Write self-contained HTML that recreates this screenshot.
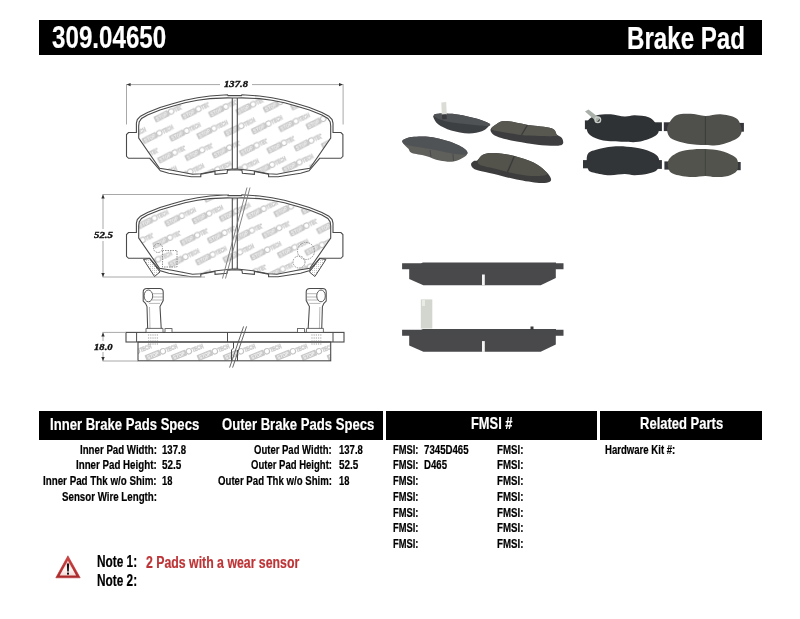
<!DOCTYPE html>
<html><head><meta charset="utf-8"><style>
html,body{margin:0;padding:0;background:#fff;}
body{width:800px;height:619px;position:relative;overflow:hidden;font-family:"Liberation Sans",sans-serif;}
.t{position:absolute;white-space:nowrap;transform-origin:0 0;-webkit-text-stroke:0.2px currentColor;}
.bar{position:absolute;background:#000;}
svg{position:absolute;left:0;top:0;}
</style></head><body>
<div class="bar" style="left:39px;top:20px;width:723px;height:34.5px"></div>
<div class="bar" style="left:39px;top:410.6px;width:344.2px;height:29.7px"></div>
<div class="bar" style="left:386px;top:410.6px;width:211px;height:29.7px"></div>
<div class="bar" style="left:599.6px;top:410.6px;width:162.6px;height:29.7px"></div>
<svg width="800" height="619" viewBox="0 0 800 619"><defs><pattern id="st1" patternUnits="userSpaceOnUse" width="27.4" height="41.2" patternTransform="translate(7,0) rotate(-5)"><g transform="translate(7,6) rotate(-22) scale(1.12)"><rect x="-7" y="-3" width="14" height="5.6" rx="0.8" fill="#c9c9c9"/><text x="0" y="1.6" text-anchor="middle" font-family="Liberation Sans" font-weight="bold" font-size="5" fill="#f4f4f4" textLength="11" lengthAdjust="spacingAndGlyphs">STOP</text><circle cx="9.6" cy="-0.2" r="2.4" fill="none" stroke="#c4c4c4" stroke-width="1"/><text x="12.6" y="1.9" font-family="Liberation Sans" font-weight="bold" font-size="5.6" fill="#e8e8e8" stroke="#c8c8c8" stroke-width="0.55" textLength="10.5" lengthAdjust="spacingAndGlyphs">TECH</text></g><g transform="translate(34.4,6) rotate(-22) scale(1.12)"><rect x="-7" y="-3" width="14" height="5.6" rx="0.8" fill="#c9c9c9"/><text x="0" y="1.6" text-anchor="middle" font-family="Liberation Sans" font-weight="bold" font-size="5" fill="#f4f4f4" textLength="11" lengthAdjust="spacingAndGlyphs">STOP</text><circle cx="9.6" cy="-0.2" r="2.4" fill="none" stroke="#c4c4c4" stroke-width="1"/><text x="12.6" y="1.9" font-family="Liberation Sans" font-weight="bold" font-size="5.6" fill="#e8e8e8" stroke="#c8c8c8" stroke-width="0.55" textLength="10.5" lengthAdjust="spacingAndGlyphs">TECH</text></g><g transform="translate(-20.4,6) rotate(-22) scale(1.12)"><rect x="-7" y="-3" width="14" height="5.6" rx="0.8" fill="#c9c9c9"/><text x="0" y="1.6" text-anchor="middle" font-family="Liberation Sans" font-weight="bold" font-size="5" fill="#f4f4f4" textLength="11" lengthAdjust="spacingAndGlyphs">STOP</text><circle cx="9.6" cy="-0.2" r="2.4" fill="none" stroke="#c4c4c4" stroke-width="1"/><text x="12.6" y="1.9" font-family="Liberation Sans" font-weight="bold" font-size="5.6" fill="#e8e8e8" stroke="#c8c8c8" stroke-width="0.55" textLength="10.5" lengthAdjust="spacingAndGlyphs">TECH</text></g><g transform="translate(20.7,26.6) rotate(-22) scale(1.12)"><rect x="-7" y="-3" width="14" height="5.6" rx="0.8" fill="#c9c9c9"/><text x="0" y="1.6" text-anchor="middle" font-family="Liberation Sans" font-weight="bold" font-size="5" fill="#f4f4f4" textLength="11" lengthAdjust="spacingAndGlyphs">STOP</text><circle cx="9.6" cy="-0.2" r="2.4" fill="none" stroke="#c4c4c4" stroke-width="1"/><text x="12.6" y="1.9" font-family="Liberation Sans" font-weight="bold" font-size="5.6" fill="#e8e8e8" stroke="#c8c8c8" stroke-width="0.55" textLength="10.5" lengthAdjust="spacingAndGlyphs">TECH</text></g><g transform="translate(-6.699999999999999,26.6) rotate(-22) scale(1.12)"><rect x="-7" y="-3" width="14" height="5.6" rx="0.8" fill="#c9c9c9"/><text x="0" y="1.6" text-anchor="middle" font-family="Liberation Sans" font-weight="bold" font-size="5" fill="#f4f4f4" textLength="11" lengthAdjust="spacingAndGlyphs">STOP</text><circle cx="9.6" cy="-0.2" r="2.4" fill="none" stroke="#c4c4c4" stroke-width="1"/><text x="12.6" y="1.9" font-family="Liberation Sans" font-weight="bold" font-size="5.6" fill="#e8e8e8" stroke="#c8c8c8" stroke-width="0.55" textLength="10.5" lengthAdjust="spacingAndGlyphs">TECH</text></g><g transform="translate(20.7,-14.600000000000001) rotate(-22) scale(1.12)"><rect x="-7" y="-3" width="14" height="5.6" rx="0.8" fill="#c9c9c9"/><text x="0" y="1.6" text-anchor="middle" font-family="Liberation Sans" font-weight="bold" font-size="5" fill="#f4f4f4" textLength="11" lengthAdjust="spacingAndGlyphs">STOP</text><circle cx="9.6" cy="-0.2" r="2.4" fill="none" stroke="#c4c4c4" stroke-width="1"/><text x="12.6" y="1.9" font-family="Liberation Sans" font-weight="bold" font-size="5.6" fill="#e8e8e8" stroke="#c8c8c8" stroke-width="0.55" textLength="10.5" lengthAdjust="spacingAndGlyphs">TECH</text></g><g transform="translate(-6.699999999999999,-14.600000000000001) rotate(-22) scale(1.12)"><rect x="-7" y="-3" width="14" height="5.6" rx="0.8" fill="#c9c9c9"/><text x="0" y="1.6" text-anchor="middle" font-family="Liberation Sans" font-weight="bold" font-size="5" fill="#f4f4f4" textLength="11" lengthAdjust="spacingAndGlyphs">STOP</text><circle cx="9.6" cy="-0.2" r="2.4" fill="none" stroke="#c4c4c4" stroke-width="1"/><text x="12.6" y="1.9" font-family="Liberation Sans" font-weight="bold" font-size="5.6" fill="#e8e8e8" stroke="#c8c8c8" stroke-width="0.55" textLength="10.5" lengthAdjust="spacingAndGlyphs">TECH</text></g><g transform="translate(7,47.2) rotate(-22) scale(1.12)"><rect x="-7" y="-3" width="14" height="5.6" rx="0.8" fill="#c9c9c9"/><text x="0" y="1.6" text-anchor="middle" font-family="Liberation Sans" font-weight="bold" font-size="5" fill="#f4f4f4" textLength="11" lengthAdjust="spacingAndGlyphs">STOP</text><circle cx="9.6" cy="-0.2" r="2.4" fill="none" stroke="#c4c4c4" stroke-width="1"/><text x="12.6" y="1.9" font-family="Liberation Sans" font-weight="bold" font-size="5.6" fill="#e8e8e8" stroke="#c8c8c8" stroke-width="0.55" textLength="10.5" lengthAdjust="spacingAndGlyphs">TECH</text></g><g transform="translate(34.4,47.2) rotate(-22) scale(1.12)"><rect x="-7" y="-3" width="14" height="5.6" rx="0.8" fill="#c9c9c9"/><text x="0" y="1.6" text-anchor="middle" font-family="Liberation Sans" font-weight="bold" font-size="5" fill="#f4f4f4" textLength="11" lengthAdjust="spacingAndGlyphs">STOP</text><circle cx="9.6" cy="-0.2" r="2.4" fill="none" stroke="#c4c4c4" stroke-width="1"/><text x="12.6" y="1.9" font-family="Liberation Sans" font-weight="bold" font-size="5.6" fill="#e8e8e8" stroke="#c8c8c8" stroke-width="0.55" textLength="10.5" lengthAdjust="spacingAndGlyphs">TECH</text></g></pattern><pattern id="st2" patternUnits="userSpaceOnUse" width="27.4" height="41.2" patternTransform="translate(-5,3) rotate(-5)"><g transform="translate(7,6) rotate(-22) scale(1.12)"><rect x="-7" y="-3" width="14" height="5.6" rx="0.8" fill="#c9c9c9"/><text x="0" y="1.6" text-anchor="middle" font-family="Liberation Sans" font-weight="bold" font-size="5" fill="#f4f4f4" textLength="11" lengthAdjust="spacingAndGlyphs">STOP</text><circle cx="9.6" cy="-0.2" r="2.4" fill="none" stroke="#c4c4c4" stroke-width="1"/><text x="12.6" y="1.9" font-family="Liberation Sans" font-weight="bold" font-size="5.6" fill="#e8e8e8" stroke="#c8c8c8" stroke-width="0.55" textLength="10.5" lengthAdjust="spacingAndGlyphs">TECH</text></g><g transform="translate(34.4,6) rotate(-22) scale(1.12)"><rect x="-7" y="-3" width="14" height="5.6" rx="0.8" fill="#c9c9c9"/><text x="0" y="1.6" text-anchor="middle" font-family="Liberation Sans" font-weight="bold" font-size="5" fill="#f4f4f4" textLength="11" lengthAdjust="spacingAndGlyphs">STOP</text><circle cx="9.6" cy="-0.2" r="2.4" fill="none" stroke="#c4c4c4" stroke-width="1"/><text x="12.6" y="1.9" font-family="Liberation Sans" font-weight="bold" font-size="5.6" fill="#e8e8e8" stroke="#c8c8c8" stroke-width="0.55" textLength="10.5" lengthAdjust="spacingAndGlyphs">TECH</text></g><g transform="translate(-20.4,6) rotate(-22) scale(1.12)"><rect x="-7" y="-3" width="14" height="5.6" rx="0.8" fill="#c9c9c9"/><text x="0" y="1.6" text-anchor="middle" font-family="Liberation Sans" font-weight="bold" font-size="5" fill="#f4f4f4" textLength="11" lengthAdjust="spacingAndGlyphs">STOP</text><circle cx="9.6" cy="-0.2" r="2.4" fill="none" stroke="#c4c4c4" stroke-width="1"/><text x="12.6" y="1.9" font-family="Liberation Sans" font-weight="bold" font-size="5.6" fill="#e8e8e8" stroke="#c8c8c8" stroke-width="0.55" textLength="10.5" lengthAdjust="spacingAndGlyphs">TECH</text></g><g transform="translate(20.7,26.6) rotate(-22) scale(1.12)"><rect x="-7" y="-3" width="14" height="5.6" rx="0.8" fill="#c9c9c9"/><text x="0" y="1.6" text-anchor="middle" font-family="Liberation Sans" font-weight="bold" font-size="5" fill="#f4f4f4" textLength="11" lengthAdjust="spacingAndGlyphs">STOP</text><circle cx="9.6" cy="-0.2" r="2.4" fill="none" stroke="#c4c4c4" stroke-width="1"/><text x="12.6" y="1.9" font-family="Liberation Sans" font-weight="bold" font-size="5.6" fill="#e8e8e8" stroke="#c8c8c8" stroke-width="0.55" textLength="10.5" lengthAdjust="spacingAndGlyphs">TECH</text></g><g transform="translate(-6.699999999999999,26.6) rotate(-22) scale(1.12)"><rect x="-7" y="-3" width="14" height="5.6" rx="0.8" fill="#c9c9c9"/><text x="0" y="1.6" text-anchor="middle" font-family="Liberation Sans" font-weight="bold" font-size="5" fill="#f4f4f4" textLength="11" lengthAdjust="spacingAndGlyphs">STOP</text><circle cx="9.6" cy="-0.2" r="2.4" fill="none" stroke="#c4c4c4" stroke-width="1"/><text x="12.6" y="1.9" font-family="Liberation Sans" font-weight="bold" font-size="5.6" fill="#e8e8e8" stroke="#c8c8c8" stroke-width="0.55" textLength="10.5" lengthAdjust="spacingAndGlyphs">TECH</text></g><g transform="translate(20.7,-14.600000000000001) rotate(-22) scale(1.12)"><rect x="-7" y="-3" width="14" height="5.6" rx="0.8" fill="#c9c9c9"/><text x="0" y="1.6" text-anchor="middle" font-family="Liberation Sans" font-weight="bold" font-size="5" fill="#f4f4f4" textLength="11" lengthAdjust="spacingAndGlyphs">STOP</text><circle cx="9.6" cy="-0.2" r="2.4" fill="none" stroke="#c4c4c4" stroke-width="1"/><text x="12.6" y="1.9" font-family="Liberation Sans" font-weight="bold" font-size="5.6" fill="#e8e8e8" stroke="#c8c8c8" stroke-width="0.55" textLength="10.5" lengthAdjust="spacingAndGlyphs">TECH</text></g><g transform="translate(-6.699999999999999,-14.600000000000001) rotate(-22) scale(1.12)"><rect x="-7" y="-3" width="14" height="5.6" rx="0.8" fill="#c9c9c9"/><text x="0" y="1.6" text-anchor="middle" font-family="Liberation Sans" font-weight="bold" font-size="5" fill="#f4f4f4" textLength="11" lengthAdjust="spacingAndGlyphs">STOP</text><circle cx="9.6" cy="-0.2" r="2.4" fill="none" stroke="#c4c4c4" stroke-width="1"/><text x="12.6" y="1.9" font-family="Liberation Sans" font-weight="bold" font-size="5.6" fill="#e8e8e8" stroke="#c8c8c8" stroke-width="0.55" textLength="10.5" lengthAdjust="spacingAndGlyphs">TECH</text></g><g transform="translate(7,47.2) rotate(-22) scale(1.12)"><rect x="-7" y="-3" width="14" height="5.6" rx="0.8" fill="#c9c9c9"/><text x="0" y="1.6" text-anchor="middle" font-family="Liberation Sans" font-weight="bold" font-size="5" fill="#f4f4f4" textLength="11" lengthAdjust="spacingAndGlyphs">STOP</text><circle cx="9.6" cy="-0.2" r="2.4" fill="none" stroke="#c4c4c4" stroke-width="1"/><text x="12.6" y="1.9" font-family="Liberation Sans" font-weight="bold" font-size="5.6" fill="#e8e8e8" stroke="#c8c8c8" stroke-width="0.55" textLength="10.5" lengthAdjust="spacingAndGlyphs">TECH</text></g><g transform="translate(34.4,47.2) rotate(-22) scale(1.12)"><rect x="-7" y="-3" width="14" height="5.6" rx="0.8" fill="#c9c9c9"/><text x="0" y="1.6" text-anchor="middle" font-family="Liberation Sans" font-weight="bold" font-size="5" fill="#f4f4f4" textLength="11" lengthAdjust="spacingAndGlyphs">STOP</text><circle cx="9.6" cy="-0.2" r="2.4" fill="none" stroke="#c4c4c4" stroke-width="1"/><text x="12.6" y="1.9" font-family="Liberation Sans" font-weight="bold" font-size="5.6" fill="#e8e8e8" stroke="#c8c8c8" stroke-width="0.55" textLength="10.5" lengthAdjust="spacingAndGlyphs">TECH</text></g></pattern><pattern id="st3" patternUnits="userSpaceOnUse" width="26" height="40" patternTransform="translate(146,342)"><g transform="translate(7,13.5) rotate(-22) scale(1.12)"><rect x="-7" y="-3" width="14" height="5.6" rx="0.8" fill="#c9c9c9"/><text x="0" y="1.6" text-anchor="middle" font-family="Liberation Sans" font-weight="bold" font-size="5" fill="#f4f4f4" textLength="11" lengthAdjust="spacingAndGlyphs">STOP</text><circle cx="9.6" cy="-0.2" r="2.4" fill="none" stroke="#c4c4c4" stroke-width="1"/><text x="12.6" y="1.9" font-family="Liberation Sans" font-weight="bold" font-size="5.6" fill="#e8e8e8" stroke="#c8c8c8" stroke-width="0.55" textLength="10.5" lengthAdjust="spacingAndGlyphs">TECH</text></g><g transform="translate(33,13.5) rotate(-22) scale(1.12)"><rect x="-7" y="-3" width="14" height="5.6" rx="0.8" fill="#c9c9c9"/><text x="0" y="1.6" text-anchor="middle" font-family="Liberation Sans" font-weight="bold" font-size="5" fill="#f4f4f4" textLength="11" lengthAdjust="spacingAndGlyphs">STOP</text><circle cx="9.6" cy="-0.2" r="2.4" fill="none" stroke="#c4c4c4" stroke-width="1"/><text x="12.6" y="1.9" font-family="Liberation Sans" font-weight="bold" font-size="5.6" fill="#e8e8e8" stroke="#c8c8c8" stroke-width="0.55" textLength="10.5" lengthAdjust="spacingAndGlyphs">TECH</text></g><g transform="translate(-19,13.5) rotate(-22) scale(1.12)"><rect x="-7" y="-3" width="14" height="5.6" rx="0.8" fill="#c9c9c9"/><text x="0" y="1.6" text-anchor="middle" font-family="Liberation Sans" font-weight="bold" font-size="5" fill="#f4f4f4" textLength="11" lengthAdjust="spacingAndGlyphs">STOP</text><circle cx="9.6" cy="-0.2" r="2.4" fill="none" stroke="#c4c4c4" stroke-width="1"/><text x="12.6" y="1.9" font-family="Liberation Sans" font-weight="bold" font-size="5.6" fill="#e8e8e8" stroke="#c8c8c8" stroke-width="0.55" textLength="10.5" lengthAdjust="spacingAndGlyphs">TECH</text></g></pattern><pattern id="dots" patternUnits="userSpaceOnUse" width="2" height="2"><rect width="1" height="1" fill="#c8c8c8"/></pattern><marker id="ar" viewBox="0 0 10 10" refX="10" refY="5" markerWidth="7" markerHeight="5" orient="auto-start-reverse"><path d="M0,1 L10,5 L0,9 Z" fill="#222"/></marker><filter id="soft" x="-5%" y="-5%" width="110%" height="110%"><feGaussianBlur stdDeviation="0.45"/></filter></defs><g filter="url(#soft)"><path d="M433.7,115.5 C434.4,114.8 434.5,113.9 438.1,113.7 C441.8,113.5 450.5,113.7 455.6,114.2 C460.7,114.7 464.5,115.8 468.7,116.8 C472.9,117.8 477.5,118.7 481.0,119.9 C484.5,121.1 488.5,122.6 489.7,123.8 C490.9,125.0 489.3,125.7 488.0,126.9 C486.7,128.1 485.1,130.1 481.9,131.2 C478.7,132.3 473.8,133.5 468.7,133.4 C463.6,133.3 456.3,131.9 451.2,130.4 C446.1,128.9 441.0,126.3 438.1,124.2 C435.2,122.1 434.4,119.5 433.7,118.0 C433.0,116.5 433.0,116.2 433.7,115.5 Z" fill="#3e3f42"/><path d="M433.7,115.5 C433.4,114.5 434.5,113.9 438.1,113.7 C441.8,113.5 450.5,113.7 455.6,114.2 C460.7,114.7 464.5,115.8 468.7,116.8 C472.9,117.8 477.5,118.7 481.0,119.9 C484.5,121.1 488.6,122.8 489.7,123.8 C490.8,124.8 490.8,125.9 487.5,126.0 C484.2,126.1 475.9,125.1 470.0,124.5 C464.1,123.9 457.0,123.3 452.0,122.5 C447.0,121.7 443.1,120.7 440.0,119.5 C436.9,118.3 434.0,116.5 433.7,115.5 Z" fill="#505256"/><path d="M441.3,102.5 L446.2,102 L446.8,114.5 L441.8,114.8 Z" fill="#dcdcd6"/><path d="M442,114.5 L446.5,114.3 L446.8,119 L442.3,119.3 Z" fill="#3a3b3e"/><path d="M402.2,141.1 C402.5,140.2 403.8,139.5 405.4,138.8 C407.0,138.1 408.5,137.3 411.9,136.9 C415.3,136.5 421.2,136.2 425.8,136.5 C430.4,136.8 435.0,137.7 439.6,138.8 C444.2,139.9 449.6,141.5 453.5,143.0 C457.4,144.5 460.5,146.1 462.8,147.6 C465.1,149.1 467.1,150.7 467.4,152.2 C467.7,153.7 466.9,155.2 464.6,156.8 C462.3,158.4 457.7,160.9 453.5,161.5 C449.3,162.1 444.2,161.4 439.6,160.5 C435.0,159.6 430.4,157.1 425.8,155.9 C421.2,154.7 414.8,154.3 411.9,153.1 C409.0,151.9 409.6,150.0 408.2,148.5 C406.8,147.0 404.6,145.1 403.6,143.9 C402.6,142.7 401.9,141.9 402.2,141.1 Z" fill="#5e5f5c"/><path d="M402.2,141.1 C402.3,140.2 403.8,139.5 405.4,138.8 C407.0,138.1 408.5,137.3 411.9,136.9 C415.3,136.5 421.2,136.2 425.8,136.5 C430.4,136.8 435.0,137.7 439.6,138.8 C444.2,139.9 449.6,141.5 453.5,143.0 C457.4,144.5 460.5,146.1 462.8,147.6 C465.1,149.1 467.0,151.0 467.4,152.2 C467.8,153.3 467.6,154.3 465.0,154.5 C462.4,154.7 457.8,154.4 452.0,153.5 C446.2,152.6 436.7,150.2 430.0,149.0 C423.3,147.8 416.2,146.8 412.0,146.0 C407.8,145.2 406.6,145.3 405.0,144.5 C403.4,143.7 402.1,142.0 402.2,141.1 Z" fill="#505257"/><path d="M430,150 L431,157 M453,154 L453.5,161" stroke="#4a4b4a" stroke-width="1"/><path d="M490.6,129.3 C491.1,127.6 493.8,125.6 496.3,124.2 C498.8,122.8 500.5,121.0 505.5,121.1 C510.5,121.2 522.4,124.0 526.5,124.7 C530.6,125.4 525.8,124.6 530.0,125.2 C534.2,125.8 547.1,126.8 551.6,128.3 C556.1,129.9 555.0,132.9 556.7,134.5 C558.4,136.1 560.9,136.5 561.9,138.0 C562.9,139.5 563.8,142.4 562.9,143.7 C562.0,145.0 561.0,145.5 556.7,145.7 C552.4,145.9 543.9,145.4 537.3,144.7 C530.6,144.0 522.8,142.7 516.8,141.6 C510.8,140.5 505.3,139.2 501.4,138.0 C497.5,136.8 495.0,135.9 493.2,134.5 C491.4,133.1 490.1,131.0 490.6,129.3 Z" fill="#3d3e3f"/><path d="M491.5,128.0 C492.1,127.0 494.0,125.4 496.3,124.2 C498.6,123.0 500.5,121.0 505.5,121.1 C510.5,121.2 522.4,124.0 526.5,124.7 C530.6,125.4 525.8,124.6 530.0,125.2 C534.2,125.8 547.1,126.8 551.6,128.3 C556.1,129.9 556.0,133.2 556.7,134.5 C557.4,135.8 558.8,135.8 556.0,136.0 C553.2,136.2 545.8,136.2 540.0,136.0 C534.2,135.8 527.7,135.8 521.0,135.0 C514.3,134.2 504.8,132.3 500.0,131.5 C495.2,130.7 493.9,130.6 492.5,130.0 C491.1,129.4 490.9,129.0 491.5,128.0 Z" fill="#595951"/><path d="M527.5,124.8 L521.5,135" stroke="#3a3b3b" stroke-width="1.3"/><path d="M471.1,163.7 C471.3,162.6 472.9,161.4 473.9,160.9 C474.9,160.4 475.7,161.4 477.2,160.4 C478.7,159.4 480.1,155.9 482.9,154.7 C485.7,153.5 488.9,152.9 494.1,153.1 C499.4,153.3 507.8,154.3 514.4,155.9 C521.0,157.5 528.5,160.2 533.5,162.6 C538.5,165.0 541.9,168.1 544.7,170.5 C547.5,172.9 549.5,175.3 550.4,177.2 C551.2,179.1 551.7,180.8 549.8,181.7 C547.9,182.6 544.6,183.3 539.1,182.9 C533.6,182.5 524.1,181.0 516.6,179.5 C509.1,178.0 500.5,175.4 494.1,173.9 C487.7,172.4 482.0,171.5 478.4,170.5 C474.8,169.5 473.9,168.8 472.7,167.7 C471.5,166.6 470.9,164.8 471.1,163.7 Z" fill="#3c3d3d"/><path d="M478.0,161.0 C478.5,159.3 480.2,156.0 482.9,154.7 C485.6,153.4 488.9,152.9 494.1,153.1 C499.4,153.3 507.8,154.3 514.4,155.9 C521.0,157.5 528.5,160.2 533.5,162.6 C538.5,165.0 542.6,168.4 544.7,170.5 C546.8,172.6 548.5,174.1 546.0,175.0 C543.5,175.9 535.7,176.3 530.0,176.0 C524.3,175.7 518.0,174.2 512.0,173.0 C506.0,171.8 499.3,169.8 494.0,168.5 C488.7,167.2 482.7,166.2 480.0,165.0 C477.3,163.8 477.5,162.7 478.0,161.0 Z" fill="#52524b"/><path d="M514.4,155.9 L507.5,172" stroke="#393a3a" stroke-width="1.3"/><path d="M588.0,120.4 C589.7,118.1 593.2,116.3 597.0,115.3 C600.8,114.3 606.2,114.1 610.8,114.3 C615.4,114.5 620.7,116.4 624.7,116.6 C628.7,116.8 630.7,115.2 634.7,115.3 C638.7,115.4 645.2,116.0 648.6,117.2 C652.0,118.4 653.2,120.0 654.9,122.3 C656.6,124.6 658.9,128.7 658.7,131.1 C658.5,133.5 657.1,135.0 653.7,136.8 C650.3,138.6 643.5,141.0 638.5,141.8 C633.5,142.6 629.3,142.0 623.4,141.8 C617.5,141.6 608.7,141.7 603.2,140.6 C597.7,139.5 593.3,137.4 590.6,135.5 C587.9,133.6 587.2,131.7 586.8,129.2 C586.4,126.7 586.3,122.7 588.0,120.4 Z" fill="#2f3235"/><rect x="584.9" y="120.4" width="8" height="8.8" fill="#2f3235"/><rect x="652" y="122.3" width="9.9" height="8.8" fill="#2f3235"/><path d="M585,111.5 L588.5,109.5 L600,118.5 L597,122 Z" fill="#a9b0aa"/><circle cx="597.8" cy="119.8" r="2.8" fill="none" stroke="#c8cec8" stroke-width="1.4"/><path d="M587.5,154.4 C589.0,151.2 592.3,150.8 597.0,149.4 C601.7,148.0 609.5,146.5 615.8,146.2 C622.1,145.9 628.8,146.6 634.7,147.5 C640.6,148.4 647.1,150.1 651.1,151.9 C655.1,153.7 657.7,155.2 658.7,158.2 C659.8,161.1 659.1,167.1 657.4,169.6 C655.7,172.1 652.4,172.5 648.6,173.4 C644.8,174.3 638.7,175.1 634.7,175.2 C630.7,175.3 628.9,174.0 624.7,174.0 C620.5,174.0 614.5,175.4 609.5,175.2 C604.5,175.0 598.0,173.8 594.4,172.7 C590.8,171.6 589.1,171.9 588.0,168.9 C586.9,165.9 586.0,157.7 587.5,154.4 Z" fill="#323438"/><rect x="583" y="160.1" width="8" height="8.2" fill="#323438"/><rect x="653" y="160.1" width="8.9" height="8.8" fill="#323438"/><rect x="663.8" y="122.3" width="8" height="8.8" fill="#34363a"/><rect x="737" y="122.9" width="6.9" height="8.8" fill="#34363a"/><path d="M668.2,124.8 C669.7,121.8 672.7,117.1 676.4,115.3 C680.1,113.5 685.5,113.7 690.3,113.8 C695.1,113.9 700.4,115.9 705.4,116.0 C710.4,116.1 715.5,114.0 720.5,114.3 C725.5,114.6 732.3,116.1 735.7,117.9 C739.1,119.8 739.8,122.9 740.7,125.4 C741.6,127.9 742.1,130.7 741.3,133.0 C740.5,135.3 739.4,137.3 735.7,139.3 C732.0,141.3 724.3,144.1 719.3,145.0 C714.2,145.9 710.7,145.2 705.4,145.0 C700.1,144.8 693.2,144.6 687.7,143.7 C682.2,142.8 676.0,141.1 672.6,139.3 C669.2,137.5 668.3,135.4 667.6,133.0 C666.9,130.6 666.7,127.8 668.2,124.8 Z" fill="#4f504b"/><path d="M705.4,116.5 L705.4,144.5" stroke="#3c3d3a" stroke-width="1"/><rect x="664.4" y="161.4" width="8" height="8.2" fill="#36383b"/><rect x="734" y="162" width="6.7" height="8.2" fill="#36383b"/><path d="M668.8,159.5 C670.5,156.6 674.9,153.6 678.9,151.9 C682.9,150.2 688.4,149.9 692.8,149.4 C697.2,148.9 700.8,148.9 705.4,149.1 C710.0,149.3 715.9,149.6 720.5,150.7 C725.1,151.8 730.2,154.0 733.1,155.7 C736.0,157.4 737.0,158.2 737.6,160.7 C738.2,163.2 738.5,168.3 736.9,170.8 C735.3,173.3 731.7,174.9 728.1,175.9 C724.5,176.9 719.3,177.1 715.5,177.1 C711.7,177.1 709.4,175.9 705.4,175.9 C701.4,175.9 696.5,177.3 691.5,177.1 C686.5,176.9 678.9,175.8 675.1,174.6 C671.3,173.3 669.8,172.1 668.8,169.6 C667.8,167.1 667.1,162.4 668.8,159.5 Z" fill="#52534d"/><path d="M705.4,149.5 L705.4,175.5" stroke="#41423e" stroke-width="1"/><path d="M402.1,263.2 H421 L423,262.4 H556 V263.2 H563.5 V269.2 H402.1 Z" fill="#47484b"/><path d="M409.2,268.4 H555.8 V278 L540.7,285.2 H423.4 L409.2,279 Z" fill="#48494b"/><rect x="482" y="274.5" width="2.8" height="10.8" fill="#f4f4f4"/><path d="M402.1,329.79999999999995 H421 L423,329.0 H556 V329.79999999999995 H563.5 V335.79999999999995 H402.1 Z" fill="#47484b"/><path d="M409.2,335.0 H555.8 V344.6 L540.7,351.79999999999995 H423.4 L409.2,345.6 Z" fill="#48494b"/><rect x="482" y="341.1" width="2.8" height="10.8" fill="#f4f4f4"/><rect x="530.5" y="326.5" width="3" height="3.5" fill="#3a3b3d"/><path d="M420.8,299.4 H432.3 V328.5 H420.8 Z" fill="#d3d6cf"/><rect x="422" y="300" width="3" height="6" fill="#e8eae4"/></g><path d="M232.30,98.00 L227.50,97.90 L210.00,98.60 L197.50,100.30 L185.00,102.80 L172.50,106.30 L160.00,110.00 L147.50,115.00 L141.50,118.50 L139.20,122.00 L138.70,126.00 L138.70,138.00 L159.50,168.20 L172.00,170.30 L192.50,174.30 L200.80,173.80 L216.30,170.80 L232.30,169.00 L237.10,169.00 L253.10,170.80 L268.60,173.80 L276.90,174.30 L297.40,170.30 L309.90,168.20 L330.70,138.00 L330.70,126.00 L330.20,122.00 L327.90,118.50 L321.90,115.00 L309.40,110.00 L296.90,106.30 L284.40,102.80 L271.90,100.30 L259.40,98.60 L241.90,97.90 L237.10,98.00 Z" fill="url(#st1)" stroke="#4a4a4a" stroke-width="1.1"/><path d="M234.70,95.60 L228.00,95.60 L227.50,94.75 L210.00,96.00 L197.50,97.75 L185.00,100.25 L172.50,103.75 L160.00,107.50 L147.50,112.50 L140.50,116.20 L137.30,119.50 L136.40,123.00 L136.40,132.50 L128.50,132.50 L126.50,134.50 L126.50,156.30 L128.50,158.30 L149.75,158.30 L160.40,170.80 L168.80,173.20 L191.30,176.70 L200.80,176.70 L200.80,174.30 L215.00,171.40 L215.00,174.30 L227.00,173.20 L227.50,170.20 L234.70,169.70 L234.70,169.70 L241.90,170.20 L242.40,173.20 L254.40,174.30 L254.40,171.40 L268.60,174.30 L268.60,176.70 L278.10,176.70 L300.60,173.20 L309.00,170.80 L319.65,158.30 L340.90,158.30 L342.90,156.30 L342.90,134.50 L340.90,132.50 L333.00,132.50 L333.00,123.00 L332.10,119.50 L328.90,116.20 L321.90,112.50 L309.40,107.50 L296.90,103.75 L284.40,100.25 L271.90,97.75 L259.40,96.00 L241.90,94.75 L241.40,95.60 L234.70,95.60 Z" fill="none" stroke="#4a4a4a" stroke-width="1.1"/><path d="M232.3,98 V169 M237.3,98 V169" stroke="#4a4a4a" stroke-width="1.1"/><path d="M232.30,198.00 L227.50,197.90 L210.00,198.60 L197.50,200.30 L185.00,202.80 L172.50,206.30 L160.00,210.00 L147.50,215.00 L141.50,218.50 L139.20,222.00 L138.70,226.00 L138.70,238.00 L159.50,268.20 L172.00,270.30 L192.50,274.30 L200.80,273.80 L216.30,270.80 L232.30,269.00 L237.10,269.00 L253.10,270.80 L268.60,273.80 L276.90,274.30 L297.40,270.30 L309.90,268.20 L330.70,238.00 L330.70,226.00 L330.20,222.00 L327.90,218.50 L321.90,215.00 L309.40,210.00 L296.90,206.30 L284.40,202.80 L271.90,200.30 L259.40,198.60 L241.90,197.90 L237.10,198.00 Z" fill="url(#st2)" stroke="#4a4a4a" stroke-width="1.1"/><path d="M234.70,195.60 L228.00,195.60 L227.50,194.75 L210.00,196.00 L197.50,197.75 L185.00,200.25 L172.50,203.75 L160.00,207.50 L147.50,212.50 L140.50,216.20 L137.30,219.50 L136.40,223.00 L136.40,232.50 L128.50,232.50 L126.50,234.50 L126.50,256.30 L128.50,258.30 L149.75,258.30 L160.40,270.80 L168.80,273.20 L191.30,276.70 L200.80,276.70 L200.80,274.30 L215.00,271.40 L215.00,274.30 L227.00,273.20 L227.50,270.20 L234.70,269.70 L234.70,269.70 L241.90,270.20 L242.40,273.20 L254.40,274.30 L254.40,271.40 L268.60,274.30 L268.60,276.70 L278.10,276.70 L300.60,273.20 L309.00,270.80 L319.65,258.30 L340.90,258.30 L342.90,256.30 L342.90,234.50 L340.90,232.50 L333.00,232.50 L333.00,223.00 L332.10,219.50 L328.90,216.20 L321.90,212.50 L309.40,207.50 L296.90,203.75 L284.40,200.25 L271.90,197.75 L259.40,196.00 L241.90,194.75 L241.40,195.60 L234.70,195.60 Z" fill="none" stroke="#4a4a4a" stroke-width="1.1"/><path d="M232.3,198 V269 M237.3,198 V269" stroke="#4a4a4a" stroke-width="1.1"/><path d="M126.5,84.6 H220 M252,84.6 H343.1" stroke="#a8a8a8" stroke-width="1"/><path d="M130.6,82.9 L126.6,84.6 L130.6,86.3 Z M339,82.9 L343,84.6 L339,86.3 Z" fill="#333"/><path d="M126.5,84.1 V124.5 M343.1,84.1 V124.5" stroke="#a8a8a8" stroke-width="1"/><path d="M103,194.5 V229 M103,241 V277 M102.5,194.5 H229 M102.5,277 H205" stroke="#a8a8a8" stroke-width="1"/><path d="M101.3,198.6 L103,194.6 L104.7,198.6 Z M101.3,272.9 L103,276.9 L104.7,272.9 Z" fill="#333"/><path d="M143.5,259.5 L149.5,258.5 L160,272 L154.5,276.5 Z" fill="url(#dots)" stroke="#4a4a4a" stroke-width="1"/><path d="M325.9,259.5 L319.9,258.5 L309.4,272 L314.9,276.5 Z" fill="url(#dots)" stroke="#4a4a4a" stroke-width="1"/><circle cx="158" cy="248" r="4.5" fill="none" stroke="#777" stroke-width="0.8" stroke-dasharray="1.5,1"/><rect x="162.5" y="250.5" width="14.5" height="16.5" fill="none" stroke="#777" stroke-width="0.8" stroke-dasharray="1.5,1"/><circle cx="306" cy="251" r="8.5" fill="none" stroke="#777" stroke-width="0.8" stroke-dasharray="1.5,1"/><circle cx="299" cy="262" r="6" fill="none" stroke="#777" stroke-width="0.8" stroke-dasharray="1.5,1"/><path d="M247,187.5 L222.5,278.5 M250,187.5 L225.5,278.5" stroke="#777" stroke-width="0.9" fill="none"/><rect x="225" y="271" width="0" height="0"/><rect x="126" y="332.4" width="218" height="9.6" fill="#fff" stroke="#4a4a4a" stroke-width="1.1"/><path d="M136.6,332.4 V342 M333,332.4 V342 M227.5,332.4 V342" stroke="#4a4a4a" stroke-width="1"/><rect x="138" y="342" width="192.7" height="18.8" fill="url(#st3)" stroke="#4a4a4a" stroke-width="1.1"/><path d="M233.5,342 V348 L231.5,350 V361 M237.5,350 V361" stroke="#4a4a4a" stroke-width="1" fill="none"/><path d="M243.6,326.4 L229.6,367.6 M246.6,326.4 L232.6,367.6" stroke="#555" stroke-width="0.9"/><path d="M103,332.4 V341 M103,352 V361 M102.5,332.4 H126 M102.5,361 H138" stroke="#a8a8a8" stroke-width="1"/><path d="M101.3,336.5 L103,332.5 L104.7,336.5 Z M101.3,356.9 L103,360.9 L104.7,356.9 Z" fill="#333"/><path d="M147.7,330 L147,306.6 L145.5,303.4 L143.2,301 V292 Q143.2,288.5 147,288.5 H159.5 Q163.2,288.5 163.2,292 V300.5 L160,306.6 L161.3,330 Z" fill="#fff" stroke="#4a4a4a" stroke-width="1.05"/><ellipse cx="148.4" cy="295.9" rx="4.3" ry="5.9" fill="none" stroke="#4a4a4a" stroke-width="0.9"/><path d="M152,293.7 H163 M152,297 H163 M151,300 H163 M149,303.4 H160" stroke="#888" stroke-width="0.6"/><path d="M149.5,307 L150,329" stroke="#888" stroke-width="0.6"/><path d="M146,328.4 H163 V332.4 H146 Z" fill="#fff" stroke="#4a4a4a" stroke-width="0.8"/><path d="M148,335 H158 M148,338 H158 M148,341 H158 M148,344 H158" stroke="#777" stroke-width="0.7" stroke-dasharray="1.2,1"/><rect x="165" y="328.6" width="7" height="3.8" fill="#fff" stroke="#4a4a4a" stroke-width="0.8"/><path d="M321.7,330 L322.4,306.6 L323.9,303.4 L326.2,301 V292 Q326.2,288.5 322.4,288.5 H309.9 Q306.2,288.5 306.2,292 V300.5 L309.4,306.6 L308.09999999999997,330 Z" fill="#fff" stroke="#4a4a4a" stroke-width="1.05"/><ellipse cx="321.0" cy="295.9" rx="4.3" ry="5.9" fill="none" stroke="#4a4a4a" stroke-width="0.9"/><path d="M317.4,293.7 H306.4 M317.4,297 H306.4 M318.4,300 H306.4 M320.4,303.4 H309.4" stroke="#888" stroke-width="0.6"/><path d="M319.9,307 L319.4,329" stroke="#888" stroke-width="0.6"/><path d="M323.4,328.4 H306.4 V332.4 H323.4 Z" fill="#fff" stroke="#4a4a4a" stroke-width="0.8"/><path d="M321.4,335 H311.4 M321.4,338 H311.4 M321.4,341 H311.4 M321.4,344 H311.4" stroke="#777" stroke-width="0.7" stroke-dasharray="1.2,1"/><rect x="297.4" y="328.6" width="7" height="3.8" fill="#fff" stroke="#4a4a4a" stroke-width="0.8"/><defs><linearGradient id="wr" x1="0" y1="0" x2="0" y2="1"><stop offset="0" stop-color="#d24646"/><stop offset="1" stop-color="#a8282a"/></linearGradient><linearGradient id="wi" x1="0" y1="0" x2="0" y2="1"><stop offset="0" stop-color="#f6c6c2"/><stop offset="0.6" stop-color="#fdf6f4"/><stop offset="1" stop-color="#f3d8d4"/></linearGradient></defs><path d="M67.9,555.8 L80.2,577.8 L55.8,577.8 Z" fill="url(#wr)" stroke="#b83232" stroke-width="0.6" stroke-linejoin="round"/><path d="M67.9,560.6 L76.1,575.5 L59.7,575.5 Z" fill="url(#wi)"/><path d="M66.9,563.6 H69.1 L68.8,571.5 H67.2 Z" fill="#111"/><rect x="67" y="572.6" width="2" height="2" fill="#111"/></svg>
<div class="t" style="left:51.75px;top:22.06px;font-size:31px;line-height:31px;font-family:'Liberation Sans',sans-serif;font-weight:bold;color:#fff;transform:scaleX(0.7795);">309.04650</div>
<div class="t" style="left:627.40px;top:22.66px;font-size:31px;line-height:31px;font-family:'Liberation Sans',sans-serif;font-weight:bold;color:#fff;transform:scaleX(0.7782);">Brake Pad</div>
<div class="t" style="left:49.50px;top:415.51px;font-size:17px;line-height:17px;font-family:'Liberation Sans',sans-serif;font-weight:bold;color:#fff;transform:scaleX(0.7703);">Inner Brake Pads Specs</div>
<div class="t" style="left:222.30px;top:415.51px;font-size:17px;line-height:17px;font-family:'Liberation Sans',sans-serif;font-weight:bold;color:#fff;transform:scaleX(0.7716);">Outer Brake Pads Specs</div>
<div class="t" style="left:471.40px;top:415.41px;font-size:17px;line-height:17px;font-family:'Liberation Sans',sans-serif;font-weight:bold;color:#fff;transform:scaleX(0.7571);">FMSI #</div>
<div class="t" style="left:639.60px;top:415.41px;font-size:17px;line-height:17px;font-family:'Liberation Sans',sans-serif;font-weight:bold;color:#fff;transform:scaleX(0.7655);">Related Parts</div>
<div class="t" style="left:79.70px;top:443.74px;font-size:12px;line-height:12px;font-family:'Liberation Sans',sans-serif;font-weight:bold;color:#000;transform:scaleX(0.8073);">Inner Pad Width:</div>
<div class="t" style="left:76.00px;top:459.46px;font-size:12px;line-height:12px;font-family:'Liberation Sans',sans-serif;font-weight:bold;color:#000;transform:scaleX(0.8116);">Inner Pad Height:</div>
<div class="t" style="left:43.00px;top:475.18px;font-size:12px;line-height:12px;font-family:'Liberation Sans',sans-serif;font-weight:bold;color:#000;transform:scaleX(0.8151);">Inner Pad Thk w/o Shim:</div>
<div class="t" style="left:61.60px;top:490.90px;font-size:12px;line-height:12px;font-family:'Liberation Sans',sans-serif;font-weight:bold;color:#000;transform:scaleX(0.8102);">Sensor Wire Length:</div>
<div class="t" style="left:161.60px;top:443.74px;font-size:12px;line-height:12px;font-family:'Liberation Sans',sans-serif;font-weight:bold;color:#000;transform:scaleX(0.8000);">137.8</div>
<div class="t" style="left:161.60px;top:459.46px;font-size:12px;line-height:12px;font-family:'Liberation Sans',sans-serif;font-weight:bold;color:#000;transform:scaleX(0.8299);">52.5</div>
<div class="t" style="left:161.60px;top:475.18px;font-size:12px;line-height:12px;font-family:'Liberation Sans',sans-serif;font-weight:bold;color:#000;transform:scaleX(0.7776);">18</div>
<div class="t" style="left:254.40px;top:443.74px;font-size:12px;line-height:12px;font-family:'Liberation Sans',sans-serif;font-weight:bold;color:#000;transform:scaleX(0.7928);">Outer Pad Width:</div>
<div class="t" style="left:251.00px;top:459.46px;font-size:12px;line-height:12px;font-family:'Liberation Sans',sans-serif;font-weight:bold;color:#000;transform:scaleX(0.7941);">Outer Pad Height:</div>
<div class="t" style="left:218.00px;top:475.18px;font-size:12px;line-height:12px;font-family:'Liberation Sans',sans-serif;font-weight:bold;color:#000;transform:scaleX(0.8028);">Outer Pad Thk w/o Shim:</div>
<div class="t" style="left:338.60px;top:443.74px;font-size:12px;line-height:12px;font-family:'Liberation Sans',sans-serif;font-weight:bold;color:#000;transform:scaleX(0.7933);">137.8</div>
<div class="t" style="left:338.60px;top:459.46px;font-size:12px;line-height:12px;font-family:'Liberation Sans',sans-serif;font-weight:bold;color:#000;transform:scaleX(0.8299);">52.5</div>
<div class="t" style="left:338.60px;top:475.18px;font-size:12px;line-height:12px;font-family:'Liberation Sans',sans-serif;font-weight:bold;color:#000;transform:scaleX(0.7776);">18</div>
<div class="t" style="left:392.60px;top:443.74px;font-size:12px;line-height:12px;font-family:'Liberation Sans',sans-serif;font-weight:bold;color:#000;transform:scaleX(0.7771);">FMSI:</div>
<div class="t" style="left:496.60px;top:443.74px;font-size:12px;line-height:12px;font-family:'Liberation Sans',sans-serif;font-weight:bold;color:#000;transform:scaleX(0.8076);">FMSI:</div>
<div class="t" style="left:392.60px;top:459.46px;font-size:12px;line-height:12px;font-family:'Liberation Sans',sans-serif;font-weight:bold;color:#000;transform:scaleX(0.7771);">FMSI:</div>
<div class="t" style="left:496.60px;top:459.46px;font-size:12px;line-height:12px;font-family:'Liberation Sans',sans-serif;font-weight:bold;color:#000;transform:scaleX(0.8076);">FMSI:</div>
<div class="t" style="left:392.60px;top:475.18px;font-size:12px;line-height:12px;font-family:'Liberation Sans',sans-serif;font-weight:bold;color:#000;transform:scaleX(0.7771);">FMSI:</div>
<div class="t" style="left:496.60px;top:475.18px;font-size:12px;line-height:12px;font-family:'Liberation Sans',sans-serif;font-weight:bold;color:#000;transform:scaleX(0.8076);">FMSI:</div>
<div class="t" style="left:392.60px;top:490.90px;font-size:12px;line-height:12px;font-family:'Liberation Sans',sans-serif;font-weight:bold;color:#000;transform:scaleX(0.7771);">FMSI:</div>
<div class="t" style="left:496.60px;top:490.90px;font-size:12px;line-height:12px;font-family:'Liberation Sans',sans-serif;font-weight:bold;color:#000;transform:scaleX(0.8076);">FMSI:</div>
<div class="t" style="left:392.60px;top:506.62px;font-size:12px;line-height:12px;font-family:'Liberation Sans',sans-serif;font-weight:bold;color:#000;transform:scaleX(0.7771);">FMSI:</div>
<div class="t" style="left:496.60px;top:506.62px;font-size:12px;line-height:12px;font-family:'Liberation Sans',sans-serif;font-weight:bold;color:#000;transform:scaleX(0.8076);">FMSI:</div>
<div class="t" style="left:392.60px;top:522.34px;font-size:12px;line-height:12px;font-family:'Liberation Sans',sans-serif;font-weight:bold;color:#000;transform:scaleX(0.7771);">FMSI:</div>
<div class="t" style="left:496.60px;top:522.34px;font-size:12px;line-height:12px;font-family:'Liberation Sans',sans-serif;font-weight:bold;color:#000;transform:scaleX(0.8076);">FMSI:</div>
<div class="t" style="left:392.60px;top:538.06px;font-size:12px;line-height:12px;font-family:'Liberation Sans',sans-serif;font-weight:bold;color:#000;transform:scaleX(0.7771);">FMSI:</div>
<div class="t" style="left:496.60px;top:538.06px;font-size:12px;line-height:12px;font-family:'Liberation Sans',sans-serif;font-weight:bold;color:#000;transform:scaleX(0.8076);">FMSI:</div>
<div class="t" style="left:424.00px;top:443.74px;font-size:12px;line-height:12px;font-family:'Liberation Sans',sans-serif;font-weight:bold;color:#000;transform:scaleX(0.8054);">7345D465</div>
<div class="t" style="left:424.00px;top:459.46px;font-size:12px;line-height:12px;font-family:'Liberation Sans',sans-serif;font-weight:bold;color:#000;transform:scaleX(0.8017);">D465</div>
<div class="t" style="left:604.75px;top:443.54px;font-size:12px;line-height:12px;font-family:'Liberation Sans',sans-serif;font-weight:bold;color:#000;transform:scaleX(0.7983);">Hardware Kit #:</div>
<div class="t" style="left:96.80px;top:554.19px;font-size:15.6px;line-height:15.6px;font-family:'Liberation Sans',sans-serif;font-weight:bold;color:#000;transform:scaleX(0.7594);">Note 1:</div>
<div class="t" style="left:96.80px;top:573.29px;font-size:15.6px;line-height:15.6px;font-family:'Liberation Sans',sans-serif;font-weight:bold;color:#000;transform:scaleX(0.7594);">Note 2:</div>
<div class="t" style="left:146.00px;top:554.79px;font-size:15.6px;line-height:15.6px;font-family:'Liberation Sans',sans-serif;font-weight:bold;color:#bd3436;transform:scaleX(0.7892);">2 Pads with a wear sensor</div>
<div class="t" style="left:224.00px;top:80.30px;font-size:8.5px;line-height:8.5px;font-family:'Liberation Serif',serif;font-weight:bold;font-style:italic;color:#111;transform:scaleX(1.2549);-webkit-text-stroke:0.35px #111;">137.8</div>
<div class="t" style="left:93.80px;top:230.90px;font-size:8.5px;line-height:8.5px;font-family:'Liberation Serif',serif;font-weight:bold;font-style:italic;color:#111;transform:scaleX(1.2706);-webkit-text-stroke:0.35px #111;">52.5</div>
<div class="t" style="left:94.00px;top:342.70px;font-size:8.5px;line-height:8.5px;font-family:'Liberation Serif',serif;font-weight:bold;font-style:italic;color:#111;transform:scaleX(1.2504);-webkit-text-stroke:0.35px #111;">18.0</div>
</body></html>
